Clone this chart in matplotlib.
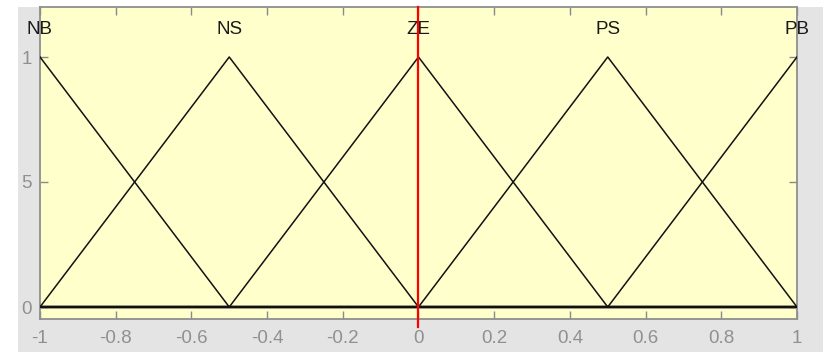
import numpy as np
import matplotlib
matplotlib.use("Agg")
import matplotlib.pyplot as plt
from matplotlib.patches import Rectangle

plt.rcParams['font.family'] = ['Liberation Sans', 'DejaVu Sans']

# Triangular membership functions: (left foot, peak, right foot)
mf_names = ["NB", "NS", "ZE", "PS", "PB"]
mf_params = [
    (-1.5, -1.0, -0.5),
    (-1.0, -0.5, 0.0),
    (-0.5, 0.0, 0.5),
    (0.0, 0.5, 1.0),
    (0.5, 1.0, 1.5),
]
input_value = 0.0

x_ticks = [-1, -0.8, -0.6, -0.4, -0.2, 0, 0.2, 0.4, 0.6, 0.8, 1]
x_tick_labels = ["-1", "-0.8", "-0.6", "-0.4", "-0.2", "0", "0.2", "0.4", "0.6", "0.8", "1"]
y_ticks = [0, 0.5, 1]
y_tick_labels = ["0", "5", "1"]

W, H = 823, 352
fig = plt.figure(figsize=(W / 100, H / 100), dpi=100, facecolor="white")
fig.patches.append(Rectangle((18 / W, 0), 1 - 18 / W, 1 - 7 / H,
                             transform=fig.transFigure, facecolor="#e4e4e4",
                             edgecolor="none", zorder=-10))

ax = fig.add_axes([40 / W, 1 - 319 / H, 757 / W, 312 / H])
ax.set_facecolor("#ffffcc")
ax.set_xlim(-1, 1)
ax.set_ylim(-0.048, 1.2)

# Evaluate each triangle on the breakpoints of the universe of discourse
grid = np.array([-1.0, -0.5, 0.0, 0.5, 1.0])
for (a, b, c), name in zip(mf_params, mf_names):
    xs = np.array([a, b, c])
    ys = np.array([0.0, 1.0, 0.0])
    mu = np.interp(grid, xs, ys, left=0.0, right=0.0)
    ax.plot(grid, mu, color="#111111", lw=1.1, zorder=3)
    ax.plot([-1, 1], [0, 0], color="#222222", lw=1.6, zorder=2)
    ax.text(b, 1.108, name, ha="center", va="center", fontsize=13.5,
            color="#1a1a1a", clip_on=False, zorder=5)

ax.plot([input_value, input_value], [-0.08, 1.2], color="#ff0000", lw=1.6,
        clip_on=False, zorder=6)

ax.set_xticks(x_ticks)
ax.set_xticklabels(x_tick_labels)
ax.set_yticks(y_ticks)
ax.set_yticklabels(y_tick_labels)
ax.tick_params(axis="both", direction="in", length=6, width=1.0,
               colors="#8a8a8a", labelsize=13.5, labelcolor="#909090",
               top=True, right=True)
ax.tick_params(axis="x", pad=8)
ax.tick_params(axis="y", pad=6)
for s in ax.spines.values():
    s.set_color("#8f8f8f")
    s.set_linewidth(1.3)

fig.savefig("out.png", dpi=100, facecolor=fig.get_facecolor())
